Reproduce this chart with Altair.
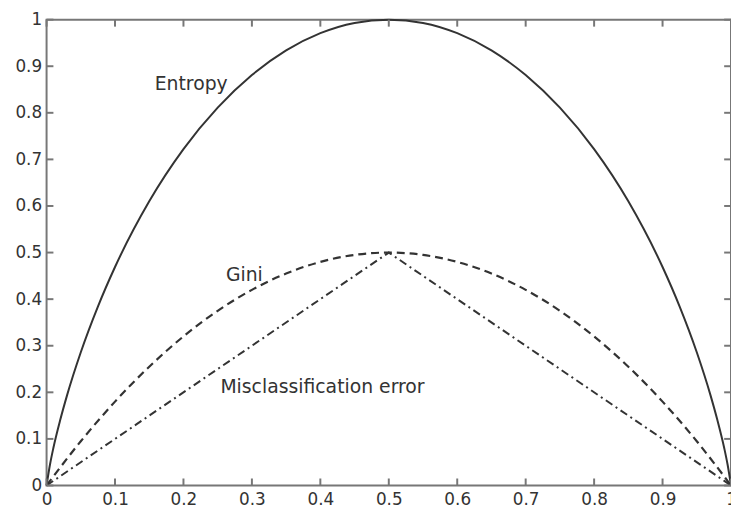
import altair as alt
import pandas as pd

# --- data ---
p_entropy = [0, 0.005, 0.01, 0.02, 0.03, 0.05, 0.075, 0.1, 0.15, 0.2, 0.25, 0.3, 0.35,
             0.4, 0.45, 0.5, 0.55, 0.6, 0.65, 0.7, 0.75, 0.8, 0.85, 0.9, 0.925, 0.95,
             0.97, 0.98, 0.99, 0.995, 1]
entropy = [0, 0.045, 0.081, 0.141, 0.194, 0.286, 0.384, 0.469, 0.610, 0.722, 0.811,
           0.881, 0.934, 0.971, 0.993, 1.0, 0.993, 0.971, 0.934, 0.881, 0.811, 0.722,
           0.610, 0.469, 0.384, 0.286, 0.194, 0.141, 0.081, 0.045, 0]

p_gini = [0, 0.05, 0.1, 0.15, 0.2, 0.25, 0.3, 0.35, 0.4, 0.45, 0.5, 0.55, 0.6, 0.65,
          0.7, 0.75, 0.8, 0.85, 0.9, 0.95, 1]
gini = [0, 0.095, 0.18, 0.255, 0.32, 0.375, 0.42, 0.455, 0.48, 0.495, 0.5, 0.495,
        0.48, 0.455, 0.42, 0.375, 0.32, 0.255, 0.18, 0.095, 0]

p_mis = [0, 0.5, 1]
mis = [0, 0.5, 0]

tick_vals = [0, 0.1, 0.2, 0.3, 0.4, 0.5, 0.6, 0.7, 0.8, 0.9, 1]

label_text = ["Entropy", "Gini", "Misclassification error"]
label_x = [0.158, 0.262, 0.254]
label_y = [0.862, 0.452, 0.212]

# --- tables ---
df_e = pd.DataFrame({"p": p_entropy, "v": entropy})
df_g = pd.DataFrame({"p": p_gini, "v": gini})
df_m = pd.DataFrame({"p": p_mis, "v": mis})
df_lab = pd.DataFrame({"t": label_text, "x": label_x, "y": label_y})
df_ticks = pd.DataFrame({"t": tick_vals})

FONT = "DejaVu Sans"
LINE = "#333333"
AX = "#777777"

xs = alt.Scale(domain=[0, 1], nice=False, zero=False)
ys = alt.Scale(domain=[0, 1], nice=False, zero=False)

xaxis = alt.Axis(values=tick_vals, format=".1~f", ticks=False, domain=False, grid=False,
                 labelFont=FONT, labelFontSize=17, labelColor="#333333", labelPadding=6,
                 labelFlush=False, labelOverlap=False)
yaxis = alt.Axis(values=tick_vals, format=".1~f", ticks=False, domain=False, grid=False,
                 labelFont=FONT, labelFontSize=17, labelColor="#333333", labelPadding=5,
                 labelFlush=False, labelOverlap=False)

base_x = alt.X("p:Q", scale=xs, axis=xaxis, title=None)
base_y = alt.Y("v:Q", scale=ys, axis=yaxis, title=None)

ent = alt.Chart(df_e).mark_line(color=LINE, strokeWidth=2, interpolate="monotone").encode(
    x=base_x, y=base_y)
gin = alt.Chart(df_g).mark_line(color=LINE, strokeWidth=2.2, strokeDash=[8, 5],
                                interpolate="monotone").encode(x="p:Q", y="v:Q")
mcl = alt.Chart(df_m).mark_line(color=LINE, strokeWidth=2, strokeDash=[8, 4, 2, 4]).encode(
    x="p:Q", y="v:Q")

labels = alt.Chart(df_lab).mark_text(font=FONT, fontSize=19, color="#333333", align="left",
                                     baseline="middle").encode(x="x:Q", y="y:Q", text="t:N")

# inward tick marks
tick_style = dict(color=AX, strokeWidth=2)
left_t = alt.Chart(df_ticks).mark_rule(**tick_style).transform_calculate(
    a="0", b="0.01").encode(x="a:Q", x2="b:Q", y="t:Q")
right_t = alt.Chart(df_ticks).mark_rule(**tick_style).transform_calculate(
    a="1", b="0.99").encode(x="a:Q", x2="b:Q", y="t:Q")
bot_t = alt.Chart(df_ticks).mark_rule(**tick_style).transform_calculate(
    a="0", b="0.015").encode(y="a:Q", y2="b:Q", x="t:Q")
top_t = alt.Chart(df_ticks).mark_rule(**tick_style).transform_calculate(
    a="1", b="0.985").encode(y="a:Q", y2="b:Q", x="t:Q")

chart = alt.layer(ent, gin, mcl, labels, left_t, right_t, bot_t, top_t).properties(
    width=692, height=471,
    autosize=alt.AutoSizeParams(type="none"),
    padding={"left": 39, "top": 9, "right": 0, "bottom": 21},
    background="white",
).configure_view(stroke=AX, strokeWidth=2)

chart.save("out.html", embed_options={"renderer": "svg", "actions": False})
